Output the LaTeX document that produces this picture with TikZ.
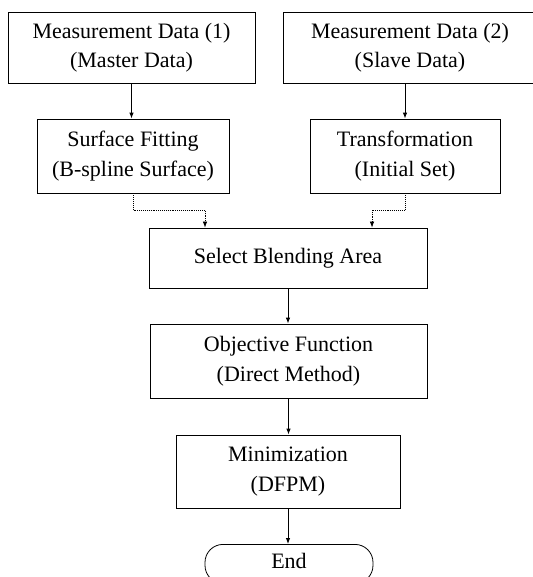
\documentclass[tikz,border=0pt]{standalone}
\usepackage{fontspec}
\setmainfont{Liberation Serif}
\usetikzlibrary{arrows.meta}

\begin{document}
\begin{tikzpicture}[
  x=1pt, y=-1pt,
  every node/.style={font=\fontsize{22}{29.5}\selectfont, align=center},
  box/.style={draw, line width=0.8pt, inner sep=0pt},
  link/.style={draw, line width=0.9pt, -{Latex[length=6pt,width=4.5pt]}},
  dotlink/.style={link, densely dotted, line width=0.7pt}
]
\useasboundingbox (0,0) rectangle (532,577);

% data sources
\node[box, minimum width=247pt, minimum height=71pt] (md1) at (131.5,47.5)
  {Measurement Data (1)\\(Master Data)};
\node[box, minimum width=254pt, minimum height=71pt] (md2) at (410,47.5)
  {Measurement Data (2)\\(Slave Data)};

% preparation
\node[box, minimum width=192pt, minimum height=74pt] (fit) at (133,156)
  {Surface Fitting\\(B-spline Surface)};
\node[box, minimum width=190pt, minimum height=74pt] (trans) at (405,156)
  {Transformation\\(Initial Set)};

% main chain
\node[box, minimum width=278pt, minimum height=60pt] (blend) at (288,258)
  {Select Blending Area};
\node[box, minimum width=277pt, minimum height=74pt] (obj) at (288.5,361)
  {Objective Function\\(Direct Method)};
\node[box, minimum width=224pt, minimum height=73pt] (mini) at (288,471.5)
  {Minimization\\(DFPM)};
\node[draw, line width=0.8pt, rounded corners=18pt, minimum width=168pt,
  text height=21pt, text depth=12pt, inner ysep=3pt, anchor=north] (fin) at (289,544) {End};

\coordinate (jl) at (205,210);
\coordinate (jr) at (372,210);

\draw[link] (md1.south) -- (md1.south |- fit.north);
\draw[link] (trans.north |- md2.south) -- (trans.north);
\draw[dotlink] (fit.south) |- (jl) -- (jl |- blend.north);
\draw[dotlink] (trans.south) |- (jr) -- (jr |- blend.north);
\draw[link] (blend.south) -- (blend.south |- obj.north);
\draw[link] (obj.south) -- (obj.south |- mini.north);
\draw[link] (mini.south) -- (mini.south |- fin.north);
\end{tikzpicture}
\end{document}
